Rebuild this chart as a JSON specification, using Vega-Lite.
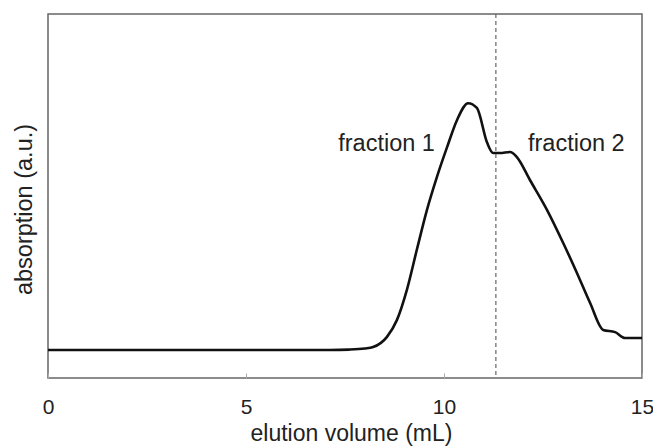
{
  "$schema": "https://vega.github.io/schema/vega-lite/v6.json",
  "autosize": "none",
  "width": 594,
  "height": 364,
  "padding": {"left": 48, "top": 14, "right": 11, "bottom": 70},
  "config": {
    "font": "Liberation Sans",
    "view": {"stroke": "#666", "strokeWidth": 1.5},
    "background": "white"
  },
  "datasets": {
    "curve": [
      {"v": 0, "a": 0.077},
      {"v": 2, "a": 0.077},
      {"v": 4, "a": 0.077},
      {"v": 6, "a": 0.077},
      {"v": 7.12, "a": 0.077},
      {"v": 7.6, "a": 0.078},
      {"v": 8.0, "a": 0.081},
      {"v": 8.21, "a": 0.085},
      {"v": 8.56, "a": 0.113},
      {"v": 8.81, "a": 0.159},
      {"v": 9.07, "a": 0.245},
      {"v": 9.32, "a": 0.355},
      {"v": 9.57, "a": 0.462},
      {"v": 9.82, "a": 0.552},
      {"v": 10.08, "a": 0.635},
      {"v": 10.33, "a": 0.709},
      {"v": 10.61, "a": 0.755},
      {"v": 10.83, "a": 0.742},
      {"v": 11.09, "a": 0.646},
      {"v": 11.24, "a": 0.618},
      {"v": 11.41, "a": 0.618},
      {"v": 11.67, "a": 0.621},
      {"v": 11.84, "a": 0.607},
      {"v": 12.17, "a": 0.544},
      {"v": 12.6, "a": 0.462},
      {"v": 13.01, "a": 0.371},
      {"v": 13.36, "a": 0.288},
      {"v": 13.69, "a": 0.206},
      {"v": 14.02, "a": 0.132},
      {"v": 14.32, "a": 0.126},
      {"v": 14.57, "a": 0.11},
      {"v": 15.0, "a": 0.11}
    ],
    "cut": [{"v": 11.31}],
    "label1": [{"v": 9.77, "a": 0.643, "t": "fraction 1"}],
    "label2": [{"v": 12.12, "a": 0.643, "t": "fraction 2"}]
  },
  "layer": [
    {
      "data": {"name": "curve"},
      "mark": {"type": "line", "color": "#111", "strokeWidth": 2.6, "interpolate": "monotone"},
      "encoding": {
        "x": {
          "field": "v", "type": "quantitative",
          "scale": {"domain": [0, 15], "nice": false, "zero": false},
          "axis": {
            "title": "elution volume (mL)",
            "values": [0, 5, 10, 15],
            "grid": false,
            "domain": false,
            "tickSize": -5,
            "tickColor": "#aaa",
            "labelFontSize": 21,
            "labelColor": "#222",
            "labelPadding": 23,
            "labelFlush": false,
            "titleFontSize": 23,
            "titleFontWeight": "normal",
            "titleColor": "#222",
            "titlePadding": 5,
            "titleX": 303
          }
        },
        "y": {
          "field": "a", "type": "quantitative",
          "scale": {"domain": [0, 1], "nice": false},
          "axis": {
            "title": "absorption (a.u.)",
            "labels": false,
            "ticks": false,
            "grid": false,
            "domain": false,
            "titleFontSize": 23.5,
            "titleFontWeight": "normal",
            "titleColor": "#222",
            "titlePadding": 12,
            "titleY": 195
          }
        }
      }
    },
    {
      "data": {"name": "cut"},
      "mark": {"type": "rule", "color": "#666", "strokeWidth": 1.2, "strokeDash": [4, 3]},
      "encoding": {"x": {"field": "v", "type": "quantitative"}}
    },
    {
      "data": {"name": "label1"},
      "mark": {"type": "text", "fontSize": 23.5, "color": "#222", "baseline": "middle", "align": "right"},
      "encoding": {
        "x": {"field": "v", "type": "quantitative"},
        "y": {"field": "a", "type": "quantitative"},
        "text": {"field": "t"}
      }
    },
    {
      "data": {"name": "label2"},
      "mark": {"type": "text", "fontSize": 23.5, "color": "#222", "baseline": "middle", "align": "left"},
      "encoding": {
        "x": {"field": "v", "type": "quantitative"},
        "y": {"field": "a", "type": "quantitative"},
        "text": {"field": "t"}
      }
    }
  ]
}
